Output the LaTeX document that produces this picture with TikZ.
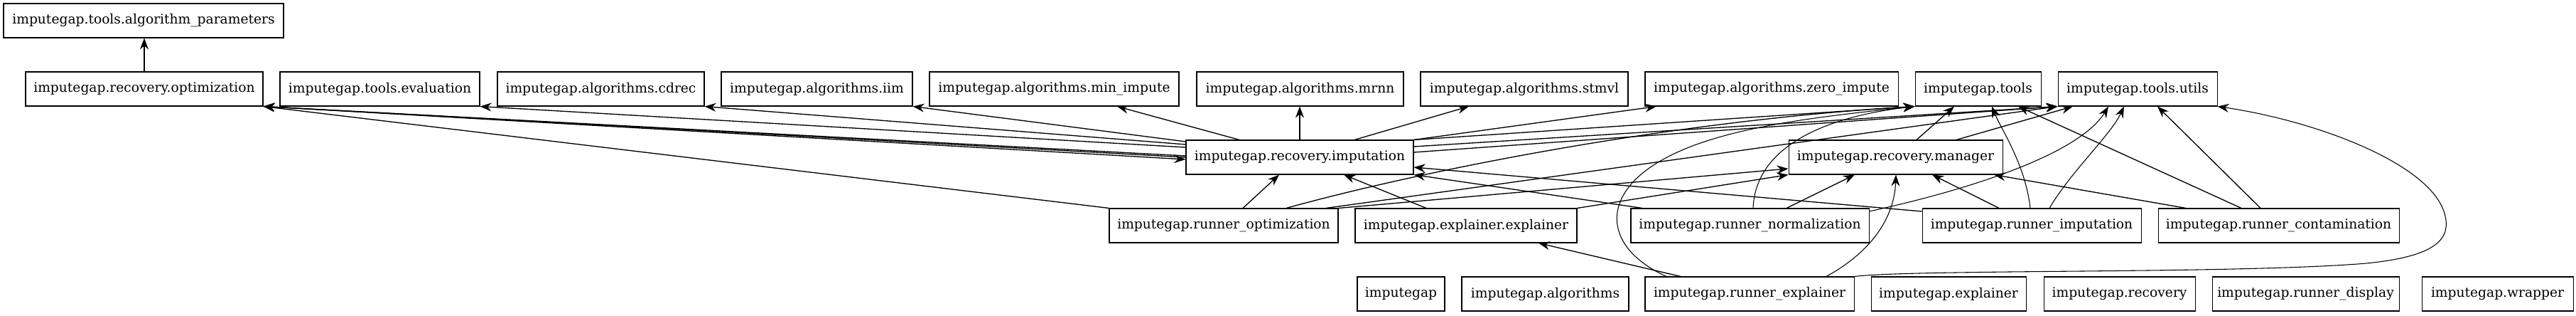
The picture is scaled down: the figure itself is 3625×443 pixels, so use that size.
\documentclass[tikz,border=0pt]{standalone}
\usepackage{fontspec}
\setmainfont{DejaVu Serif}
\usetikzlibrary{arrows.meta,calc}
\begin{document}
\begin{tikzpicture}[x=0.75pt,y=-0.75pt,
  box/.style={draw, line width=0.8pt, minimum height=36pt, inner sep=0pt, font=\fontsize{14pt}{16pt}\selectfont},
  dep/.style={-{Stealth[length=12pt,width=9pt,inset=4pt]}, line width=1pt},
  depc/.style={-{Stealth[length=12pt,width=9pt,inset=4pt]}, line width=0.8pt}]
\fill[white] (0,0) rectangle (3625,443);
% row 0
\node[box, minimum width=295.5pt] (ap) at (202,29) {imputegap.tools.algorithm\_parameters};
% row 1
\node[box, minimum width=250.5pt] (opt) at (203,125) {imputegap.recovery.optimization};
\node[box, minimum width=210.75pt] (eval) at (534.5,125) {imputegap.tools.evaluation};
\node[box, minimum width=218.25pt] (cdrec) at (845.5,125) {imputegap.algorithms.cdrec};
\node[box, minimum width=201.75pt] (iim) at (1149.5,125) {imputegap.algorithms.iim};
\node[box, minimum width=263.25pt] (min) at (1483.5,125) {imputegap.algorithms.min\_impute};
\node[box, minimum width=218.25pt] (mrnn) at (1829.5,125) {imputegap.algorithms.mrnn};
\node[box, minimum width=219pt] (stmvl) at (2145,125) {imputegap.algorithms.stmvl};
\node[box, minimum width=267pt] (zero) at (2493,125) {imputegap.algorithms.zero\_impute};
\node[box, minimum width=132.75pt] (tools) at (2783.5,125) {imputegap.tools};
\node[box, minimum width=168pt] (utils) at (3008,125) {imputegap.tools.utils};
% row 2
\node[box, minimum width=240pt] (imp) at (1829,221) {imputegap.recovery.imputation};
\node[box, minimum width=225.75pt] (mgr) at (2667.5,221) {imputegap.recovery.manager};
% row 3
\node[box, minimum width=241.5pt] (ropt) at (1722,317) {imputegap.runner\_optimization};
\node[box, minimum width=234pt] (eexp) at (2063,317) {imputegap.explainer.explainer};
\node[box, minimum width=251.25pt] (rnorm) at (2462.5,317) {imputegap.runner\_normalization};
\node[box, minimum width=231pt] (rimp) at (2859,317) {imputegap.runner\_imputation};
\node[box, minimum width=254.25pt] (rcont) at (3206.5,317) {imputegap.runner\_contamination};
% row 4
\node[box, minimum width=92.25pt] (ig) at (1971.5,413) {imputegap};
\node[box, minimum width=176.25pt] (alg) at (2174.5,413) {imputegap.algorithms};
\node[box, minimum width=220.5pt] (rexp) at (2462,413) {imputegap.runner\_explainer};
\node[box, minimum width=163.5pt] (exp) at (2742,413) {imputegap.explainer};
\node[box, minimum width=159.75pt] (rec) at (2982.5,413) {imputegap.recovery};
\node[box, minimum width=197.25pt] (rdisp) at (3244.5,413) {imputegap.runner\_display};
\node[box, minimum width=159.75pt] (wrap) at (3514.5,413) {imputegap.wrapper};
% edges
\draw[dep] (opt.north) -- (opt.north |- ap.south);
\draw[dep] (imp.west |- 0,219) -- (opt.south east);
\draw[dep] (imp.west |- 0,221) -- (opt.south east);
\draw[dep] (opt.south east) -- (imp.west |- 0,224);
\draw[dep] (imp.west |- 0,207) -- (eval.south east);
\draw[dep] (imp.west |- 0,203) -- (cdrec.south east);
\draw[dep] (imp.west |- 0,199) -- (iim.south east);
\draw[dep] (imp.north -| 1744,0) -- (min.south -| 1572,0);
\draw[dep] (imp.north) -- (imp.north |- mrnn.south);
\draw[dep] (imp.north -| 1906,0) -- (stmvl.south -| 2067,0);
\draw[dep] (imp.north east) -- (zero.south -| 2331,0);
\draw[dep] (imp.north east) -- (tools.south west);
\draw[dep] (imp.east |- 0,206) -- (utils.south west);
\draw[dep] (imp.east |- 0,214) -- (utils.south west);
\draw[dep] (ropt.north west) -- (opt.south east);
\draw[dep] (ropt.north -| 1749,0) -- (imp.south -| 1800,0);
\draw[dep] (ropt.north -| 1810,0) .. controls (2000,240) and (2350,170) .. (tools.south west);
\draw[dep] (ropt.north -| 1866,0) -- (utils.south west);
\draw[dep] (ropt.north east) -- (mgr.west |- 0,237);
\draw[dep] (eexp.north -| 2007,0) -- (imp.south -| 1891,0);
\draw[dep] (eexp.north east) -- (mgr.south west);
\draw[dep] (rnorm.north -| 2311,0) -- (imp.south east);
\draw[dep] (rnorm.north -| 2514,0) -- (mgr.south -| 2610,0);
\draw[depc] (rnorm.north -| 2467,0) .. controls (2470,210) and (2560,165) .. (tools.south west);
\draw[depc] (rnorm.east |- 0,297) .. controls (2800,260) and (2930,210) .. (utils.south -| 2967,0);
\draw[dep] (rimp.west |- 0,297) -- (imp.east |- 0,235);
\draw[dep] (rimp.north -| 2813,0) -- (mgr.south -| 2719,0);
\draw[depc] (rimp.north -| 2857,0) .. controls (2850,230) and (2815,180) .. (tools.south -| 2803,0);
\draw[depc] (rimp.north -| 2884,0) .. controls (2915,240) and (2970,190) .. (utils.south -| 2989,0);
\draw[dep] (rcont.north -| 3076,0) -- (mgr.south -| 2806,0);
\draw[dep] (rcont.north -| 3154,0) -- (tools.south -| 2840,0);
\draw[dep] (rcont.north -| 3181,0) -- (utils.south -| 3036,0);
\draw[dep] (rexp.north -| 2365,0) -- (eexp.south -| 2165,0);
\draw[depc] (rexp.north -| 2570,0) .. controls (2640,350) and (2666,300) .. (mgr.south -| 2668,0);
\draw[depc] (rexp.north -| 2345,0) .. controls (2260,350) and (2250,280) .. (2330,230) .. controls (2410,180) and (2550,165) .. (tools.south west);
\draw[depc] (rexp.north east) .. controls (2700,378) and (3150,385) .. (3330,370) .. controls (3430,360) and (3450,335) .. (3440,300) .. controls (3420,230) and (3260,170) .. (utils.south east);
\draw[dep] (mgr.north -| 2697,0) -- (tools.south -| 2750,0);
\draw[dep] (mgr.north -| 2753,0) -- (utils.south -| 2917,0);
\end{tikzpicture}
\end{document}
